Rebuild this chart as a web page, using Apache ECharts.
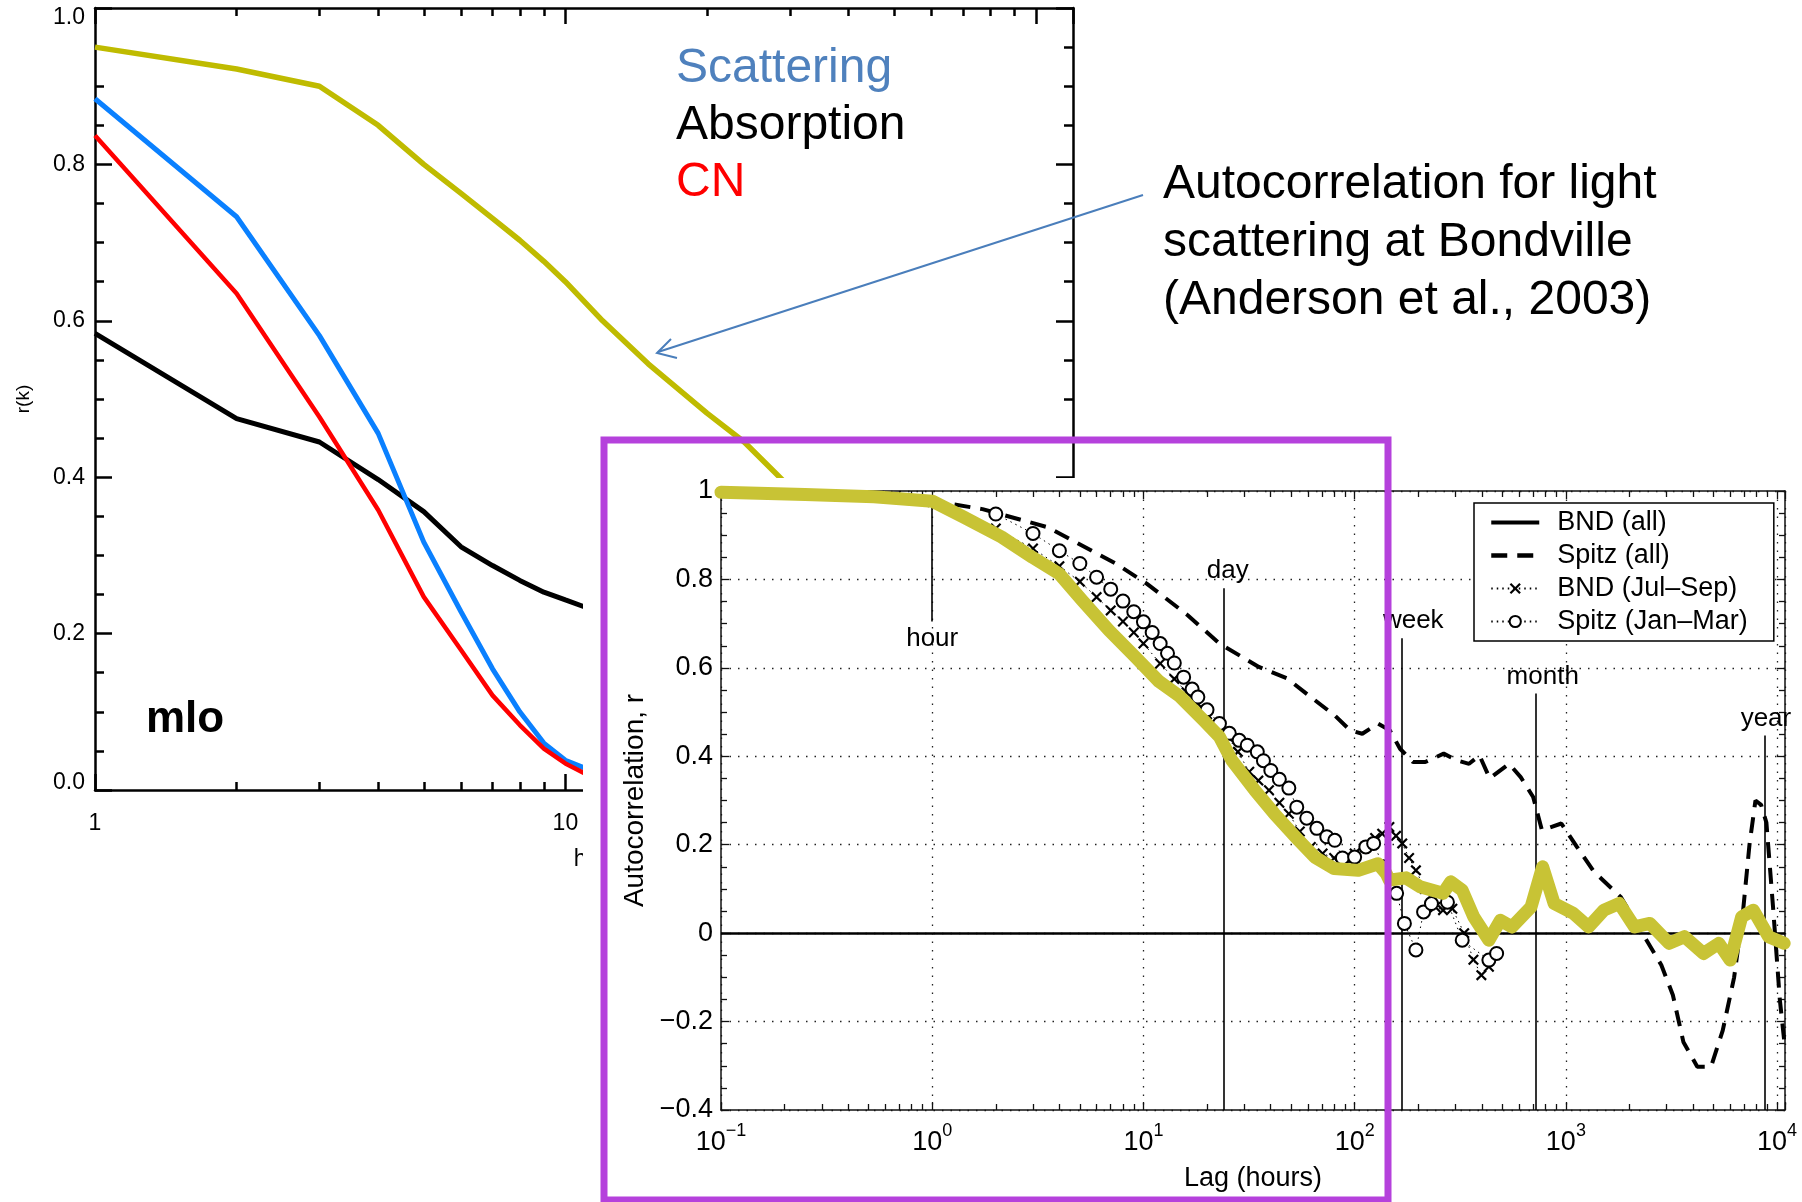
<!DOCTYPE html>
<html>
<head>
<meta charset="utf-8">
<script src="https://cdn.jsdelivr.net/npm/echarts@6/dist/echarts.min.js"></script>
<style>html,body{margin:0;padding:0;background:#fff}#c{width:1802px;height:1202px}</style>
</head>
<body>
<div id="c"></div>
<script>
// ---------- Left chart (mlo) ----------
const mloLag = [1, 2, 3, 4, 5, 6, 7, 8, 9, 10, 11, 12];
const mloScattering = [0.884, 0.733, 0.581, 0.456, 0.317, 0.228, 0.155, 0.100, 0.060, 0.038, 0.028, 0.020];
const mloCN = [0.837, 0.635, 0.477, 0.358, 0.247, 0.179, 0.121, 0.083, 0.053, 0.034, 0.021, 0.012];
const mloAbsorption = [0.584, 0.475, 0.445, 0.397, 0.356, 0.311, 0.287, 0.268, 0.253, 0.243, 0.234, 0.226];
const mloYellowLag = [1, 2, 3, 4, 5, 6, 7, 8, 9, 10, 12, 15, 20, 24, 28, 32];
const mloYellow = [0.950, 0.922, 0.900, 0.850, 0.800, 0.763, 0.731, 0.703, 0.676, 0.650, 0.600, 0.545, 0.482, 0.445, 0.405, 0.370];
const mloMinorTicks = [2, 3, 4, 5, 6, 7, 8, 9, 20, 30, 40, 50, 60, 70, 80, 90];

// ---------- Right chart (Anderson et al., 2003) ----------
const bndAllLag = [0.1, 0.25, 0.53, 1.0, 1.41, 2.13, 2.98, 3.99, 5.12, 6.86, 9.18, 11.8, 14.9, 19.3, 22.9, 26.2, 33.7, 41.7, 54.3, 64.7, 80, 104, 129, 141, 146, 175, 204, 262, 285, 323, 366, 432, 490, 555, 684, 776, 880, 1083, 1281, 1514, 1790, 2115, 2500, 3080, 3640, 4480, 5300, 6000, 6800, 7720, 9120, 10800];
const bndAllR = [0.997, 0.992, 0.987, 0.977, 0.941, 0.896, 0.850, 0.813, 0.753, 0.685, 0.624, 0.570, 0.535, 0.481, 0.444, 0.391, 0.323, 0.270, 0.210, 0.172, 0.146, 0.142, 0.157, 0.135, 0.120, 0.125, 0.105, 0.090, 0.116, 0.097, 0.037, -0.016, 0.029, 0.014, 0.059, 0.150, 0.067, 0.045, 0.014, 0.052, 0.067, 0.014, 0.022, -0.023, -0.008, -0.046, -0.023, -0.061, 0.037, 0.052, -0.008, -0.023];

const spitzAllLag = [0.1, 0.3, 0.6, 1.05, 1.73, 3.52, 7.45, 10.4, 16.2, 22.9, 35.2, 47.9, 62, 80.2, 95, 108.7, 129, 146.6, 164, 189, 216, 264, 303, 348, 390, 436, 538, 611, 700, 770, 952, 1128, 1358, 1817, 2300, 2830, 3210, 3600, 4190, 4870, 5530, 6260, 6900, 7400, 7900, 8400, 8900, 9600, 10300, 10900];
const spitzAllR = [0.995, 0.99, 0.985, 0.976, 0.959, 0.918, 0.835, 0.790, 0.719, 0.655, 0.602, 0.576, 0.534, 0.493, 0.459, 0.451, 0.474, 0.459, 0.417, 0.387, 0.387, 0.406, 0.391, 0.383, 0.402, 0.350, 0.383, 0.353, 0.308, 0.233, 0.248, 0.195, 0.139, 0.082, 0.000, -0.072, -0.140, -0.246, -0.302, -0.302, -0.220, -0.100, 0.050, 0.200, 0.300, 0.290, 0.250, 0.050, -0.150, -0.260];

const bndJulLag = [1, 2, 3, 4, 5, 6, 7, 8, 9, 10, 12, 14, 16, 18, 20, 22, 25, 28, 31.7, 35, 39.3, 44, 48.8, 55, 62, 70.5, 80, 90, 100, 112, 125, 135, 146, 157, 168, 181, 195, 215, 241, 262, 290, 330, 365, 398, 432];
const bndJulR = [0.975, 0.915, 0.87, 0.83, 0.795, 0.76, 0.73, 0.705, 0.68, 0.655, 0.61, 0.575, 0.545, 0.52, 0.495, 0.47, 0.445, 0.41, 0.365, 0.345, 0.323, 0.295, 0.27, 0.23, 0.195, 0.18, 0.17, 0.17, 0.18, 0.195, 0.215, 0.225, 0.24, 0.22, 0.203, 0.17, 0.142, 0.10, 0.059, 0.052, 0.055, 0.0, -0.06, -0.095, -0.076];

const spitzJanLag = [2, 3, 4, 5, 6, 7, 8, 9, 10, 11, 12, 13, 14, 15.5, 17, 18.1, 20, 22.9, 25.5, 28.4, 31, 34.6, 37, 40.1, 44, 48.8, 53.2, 59.3, 66.2, 73.8, 80.5, 87.5, 100, 113, 123, 137, 158, 172, 195, 212, 231, 275, 323, 432, 470];
const spitzJanR = [0.948, 0.904, 0.865, 0.836, 0.805, 0.778, 0.751, 0.727, 0.704, 0.68, 0.655, 0.633, 0.611, 0.579, 0.552, 0.534, 0.505, 0.474, 0.452, 0.436, 0.425, 0.41, 0.39, 0.368, 0.348, 0.328, 0.285, 0.26, 0.237, 0.218, 0.21, 0.17, 0.172, 0.195, 0.203, 0.15, 0.09, 0.022, -0.038, 0.048, 0.067, 0.07, -0.016, -0.061, -0.046];

const eventNames = ['hour', 'day', 'week', 'month', 'year'];
const eventLag = [1, 24, 168, 720, 8760];
const eventTop = [0.99, 0.78, 0.667, 0.542, 0.447];
const eventBottom = [0.705, -0.4, -0.4, -0.4, -0.4];
const eventLabelShift = [0, 8, 22, 14, 2];

const rightMinorTicks = [];
[0.1, 1, 10, 100, 1000].forEach(function (d) { for (let k = 2; k <= 9; k++) rightMinorTicks.push(+(d * k).toPrecision(3)); });

const legendNames = ['BND (all)', 'Spitz (all)', 'BND (Jul\u2013Sep)', 'Spitz (Jan\u2013Mar)'];

// ---------- helpers ----------
const FONT = '"Liberation Sans", Arial, Helvetica, sans-serif';
function pairs(xs, ys) { return xs.map(function (x, i) { return [x, ys[i]]; }); }
function powLabel(v) {
  const e = Math.log10(v), r = Math.round(e);
  if (Math.abs(e - r) > 1e-6) return '';
  return '{b|10}{s|' + (r < 0 ? '\u2212' + (-r) : String(r)) + '}';
}
function leftXLabel(v) {
  const e = Math.log10(v), r = Math.round(e);
  if (Math.abs(e - r) > 1e-6) return '';
  return String(Math.round(v));
}
const black = '#000';

const leftAxisLine = { onZero: false, lineStyle: { color: black, width: 2.5 } };
const rightAxisLine = { onZero: false, lineStyle: { color: '#111', width: 1.5 } };

const xAxes = [
  { gridIndex: 0, type: 'log', logBase: 10, min: 1, max: 120, position: 'bottom',
    axisLine: leftAxisLine,
    axisTick: { inside: true, length: 16, lineStyle: { color: black, width: 2.5 } },
    axisLabel: { fontSize: 23, color: black, fontFamily: FONT, margin: 22, formatter: leftXLabel },
    splitLine: { show: false },
    name: 'hr', nameLocation: 'middle', nameGap: 58, nameTextStyle: { fontSize: 23, color: black, fontFamily: FONT } },
  { gridIndex: 0, type: 'log', logBase: 10, min: 1, max: 120, position: 'bottom',
    axisLine: { show: false, onZero: false },
    axisTick: { inside: true, length: 8, customValues: mloMinorTicks, lineStyle: { color: black, width: 2.5 } },
    axisLabel: { show: false }, splitLine: { show: false } },
  { gridIndex: 0, type: 'log', logBase: 10, min: 1, max: 120, position: 'top',
    axisLine: leftAxisLine,
    axisTick: { inside: true, length: 16, lineStyle: { color: black, width: 2.5 } },
    axisLabel: { show: false }, splitLine: { show: false } },
  { gridIndex: 0, type: 'log', logBase: 10, min: 1, max: 120, position: 'top',
    axisLine: { show: false, onZero: false },
    axisTick: { inside: true, length: 8, customValues: mloMinorTicks, lineStyle: { color: black, width: 2.5 } },
    axisLabel: { show: false }, splitLine: { show: false } },
  { gridIndex: 1, type: 'log', logBase: 10, min: 0.1, max: 10900, position: 'bottom', z: 20,
    axisLine: rightAxisLine,
    axisTick: { inside: true, length: 8, lineStyle: { color: '#111', width: 1.3 } },
    axisLabel: { margin: 12, formatter: powLabel,
      rich: { b: { fontSize: 27, color: black, fontFamily: FONT, lineHeight: 34, verticalAlign: 'bottom' },
              s: { fontSize: 18, color: black, fontFamily: FONT, lineHeight: 34, verticalAlign: 'top' } } },
    splitLine: { show: true, lineStyle: { color: '#222', width: 1.3, type: [1.5, 7] } },
    name: 'Lag (hours)', nameLocation: 'middle', nameGap: 55, nameTextStyle: { fontSize: 27, color: black, fontFamily: FONT } },
  { gridIndex: 1, type: 'log', logBase: 10, min: 0.1, max: 10900, position: 'bottom', z: 20,
    axisLine: { show: false, onZero: false },
    axisTick: { inside: true, length: 6, customValues: rightMinorTicks, lineStyle: { color: '#111', width: 1.3 } },
    axisLabel: { show: false }, splitLine: { show: false } },
  { gridIndex: 1, type: 'log', logBase: 10, min: 0.1, max: 10900, position: 'top', z: 20,
    axisLine: rightAxisLine,
    axisTick: { inside: true, length: 8, lineStyle: { color: '#111', width: 1.3 } },
    axisLabel: { show: false }, splitLine: { show: false } },
  { gridIndex: 1, type: 'log', logBase: 10, min: 0.1, max: 10900, position: 'top', z: 20,
    axisLine: { show: false, onZero: false },
    axisTick: { inside: true, length: 6, customValues: rightMinorTicks, lineStyle: { color: '#111', width: 1.3 } },
    axisLabel: { show: false }, splitLine: { show: false } }
];

const yAxes = [
  { gridIndex: 0, type: 'value', min: 0, max: 1, interval: 0.2, position: 'left',
    axisLine: leftAxisLine,
    axisTick: { inside: true, length: 17, lineStyle: { color: black, width: 2.5 } },
    minorTick: { show: true, splitNumber: 4, length: 9, lineStyle: { color: black, width: 2.5 } },
    axisLabel: { margin: 10, fontSize: 23, color: black, fontFamily: FONT,
      formatter: function (v) {
        const t = v.toFixed(1);
        if (v === 1) return '{t|' + t + '}';
        if (v === 0) return '{z|' + t + '}';
        return t;
      },
      rich: { t: { fontSize: 23, color: black, fontFamily: FONT, padding: [20, 0, 0, 0] },
              z: { fontSize: 23, color: black, fontFamily: FONT, padding: [0, 0, 14, 0] } } },
    splitLine: { show: false },
    name: 'r(k)', nameLocation: 'middle', nameGap: 62, nameRotate: 90, nameTextStyle: { fontSize: 19, color: black, fontFamily: FONT } },
  { gridIndex: 0, type: 'value', min: 0, max: 1, interval: 0.2, position: 'right',
    axisLine: leftAxisLine,
    axisTick: { inside: true, length: 17, lineStyle: { color: black, width: 2.5 } },
    minorTick: { show: true, splitNumber: 4, length: 9, lineStyle: { color: black, width: 2.5 } },
    axisLabel: { show: false }, splitLine: { show: false } },
  { gridIndex: 1, type: 'value', min: -0.4, max: 1, interval: 0.2, position: 'left', z: 20,
    axisLine: rightAxisLine,
    axisTick: { inside: true, length: 8, lineStyle: { color: '#111', width: 1.3 } },
    minorTick: { show: true, splitNumber: 4, length: 6, lineStyle: { color: '#111', width: 1.3 } },
    axisLabel: { margin: 8, fontSize: 27, color: black, fontFamily: FONT,
      formatter: function (v) {
        if (Math.abs(v) < 1e-9) return '0';
        if (Math.abs(v - 1) < 1e-9) return '1';
        return (v < 0 ? '\u2212' : '') + Math.abs(v).toFixed(1);
      } },
    splitLine: { show: true, lineStyle: { color: '#222', width: 1.3, type: [1.5, 7] } },
    name: 'Autocorrelation, r', nameLocation: 'middle', nameGap: 70, nameRotate: 90,
    nameTextStyle: { fontSize: 28, color: black, fontFamily: FONT } },
  { gridIndex: 1, type: 'value', min: -0.4, max: 1, interval: 0.2, position: 'right', z: 20,
    axisLine: rightAxisLine,
    axisTick: { inside: true, length: 8, lineStyle: { color: '#111', width: 1.3 } },
    minorTick: { show: true, splitNumber: 4, length: 6, lineStyle: { color: '#111', width: 1.3 } },
    axisLabel: { show: false }, splitLine: { show: false } }
];

const eventLines = eventNames.map(function (n, i) {
  return [{ name: n, coord: [eventLag[i], i === 0 ? eventTop[i] : eventBottom[i]],
            label: { padding: [0, 0, 0, eventLabelShift[i]] } },
          { coord: [eventLag[i], i === 0 ? eventBottom[i] : eventTop[i]] }];
});

const xMark = 'path://M0,1.4L1.4,0L5,3.6L8.6,0L10,1.4L6.4,5L10,8.6L8.6,10L5,6.4L1.4,10L0,8.6L3.6,5Z';

const series = [
  { name: 'mlo yellow', type: 'line', xAxisIndex: 0, yAxisIndex: 0, data: pairs(mloYellowLag, mloYellow), symbol: 'none', z: 2,
    lineStyle: { color: '#bfbb00', width: 5.5 }, silent: true },
  { name: 'Absorption', type: 'line', xAxisIndex: 0, yAxisIndex: 0, data: pairs(mloLag, mloAbsorption), symbol: 'none', z: 2,
    lineStyle: { color: '#000', width: 5 }, silent: true },
  { name: 'Scattering', type: 'line', xAxisIndex: 0, yAxisIndex: 0, data: pairs(mloLag, mloScattering), symbol: 'none', z: 2,
    lineStyle: { color: '#0a80ff', width: 5 }, silent: true },
  { name: 'CN', type: 'line', xAxisIndex: 0, yAxisIndex: 0, data: pairs(mloLag, mloCN), symbol: 'none', z: 2,
    lineStyle: { color: '#ff0000', width: 4.5 }, silent: true },
  { name: legendNames[0], type: 'line', xAxisIndex: 4, yAxisIndex: 2, data: pairs(bndAllLag, bndAllR), symbol: 'none', z: 21,
    color: '#000', lineStyle: { color: '#000', width: 3.5 }, silent: true,
    markLine: { z: 21, silent: true, symbol: ['none', 'none'], animation: false,
      data: [{ yAxis: 0, lineStyle: { color: '#000', width: 2.5, type: 'solid' }, label: { show: false } }].concat(eventLines),
      lineStyle: { color: '#000', width: 1.6, type: 'solid' },
      label: { show: true, position: 'end', formatter: '{b}', fontSize: 26, color: '#000', fontFamily: FONT, distance: 4 } } },
  { name: legendNames[1], type: 'line', xAxisIndex: 4, yAxisIndex: 2, data: pairs(spitzAllLag, spitzAllR), symbol: 'none', z: 22,
    color: '#000', lineStyle: { color: '#000', width: 4, type: [16, 10] }, silent: true },
  { name: legendNames[2], type: 'line', xAxisIndex: 4, yAxisIndex: 2, data: pairs(bndJulLag, bndJulR), symbol: xMark, symbolSize: 11, z: 23,
    color: '#000', itemStyle: { color: '#000' }, lineStyle: { color: '#000', width: 1, type: [1.5, 4] }, silent: true },
  { name: legendNames[3], type: 'line', xAxisIndex: 4, yAxisIndex: 2, data: pairs(spitzJanLag, spitzJanR), symbol: 'emptyCircle', symbolSize: 13, z: 24,
    color: '#000', itemStyle: { color: '#000', borderWidth: 1.6 }, lineStyle: { color: '#000', width: 1, type: [1.5, 4] }, silent: true },
  { name: 'highlight', type: 'line', xAxisIndex: 4, yAxisIndex: 2, data: pairs(bndAllLag, bndAllR), symbol: 'none', z: 25,
    lineStyle: { color: '#c8c335', width: 13, cap: 'round', join: 'round' }, silent: true }
];

const graphics = [
  { type: 'rect', z: 10, shape: { x: 583, y: 478, width: 1219, height: 724 }, style: { fill: '#fff' }, silent: true },
  { type: 'rect', z: 40, shape: { x: 604, y: 440, width: 784, height: 760 }, style: { fill: 'none', stroke: '#b541dc', lineWidth: 7 }, silent: true },
  { type: 'line', z: 40, shape: { x1: 1143, y1: 195, x2: 658, y2: 352 }, style: { stroke: '#4a7ebb', lineWidth: 2 }, silent: true },
  { type: 'polyline', z: 40, shape: { points: [[671, 339], [657, 353], [677, 358]] }, style: { stroke: '#4a7ebb', lineWidth: 2, fill: null }, silent: true },
  { type: 'text', z: 40, x: 676, y: 69, style: { text: 'Scattering', fill: '#4f81bd', fontSize: 48, fontFamily: FONT, verticalAlign: 'middle', align: 'left' } },
  { type: 'text', z: 40, x: 676, y: 126, style: { text: 'Absorption', fill: '#000', fontSize: 48, fontFamily: FONT, verticalAlign: 'middle', align: 'left' } },
  { type: 'text', z: 40, x: 676, y: 183, style: { text: 'CN', fill: '#ff0000', fontSize: 48, fontFamily: FONT, verticalAlign: 'middle', align: 'left' } },
  { type: 'text', z: 40, x: 1163, y: 185, style: { text: 'Autocorrelation for light', fill: '#000', fontSize: 48, fontFamily: FONT, verticalAlign: 'middle', align: 'left' } },
  { type: 'text', z: 40, x: 1163, y: 243, style: { text: 'scattering at Bondville', fill: '#000', fontSize: 48, fontFamily: FONT, verticalAlign: 'middle', align: 'left' } },
  { type: 'text', z: 40, x: 1163, y: 301, style: { text: '(Anderson et al., 2003)', fill: '#000', fontSize: 48, fontFamily: FONT, verticalAlign: 'middle', align: 'left' } },
  { type: 'text', z: 5, x: 146, y: 720, style: { text: 'mlo', fill: '#000', fontSize: 44, fontWeight: 'bold', fontFamily: FONT, verticalAlign: 'middle', align: 'left' } }
];

const option = {
  animation: false,
  backgroundColor: '#fff',
  textStyle: { fontFamily: FONT },
  grid: [
    { left: 95, top: 8, width: 978, height: 782 },
    { left: 721, top: 491, width: 1064, height: 619 }
  ],
  xAxis: xAxes,
  yAxis: yAxes,
  legend: {
    z: 30, orient: 'vertical', left: 1474, top: 503, selectedMode: false,
    data: [
      { name: legendNames[0], itemStyle: { opacity: 0 }, lineStyle: { width: 4 } },
      { name: legendNames[1], itemStyle: { opacity: 0 }, lineStyle: { width: 4.5 } },
      { name: legendNames[2] },
      { name: legendNames[3] }
    ],
    itemWidth: 48, itemHeight: 14, itemGap: 6, padding: [6, 26, 6, 15],
    backgroundColor: '#fff', borderColor: '#000', borderWidth: 1.5, borderRadius: 0,
    textStyle: { fontSize: 27, color: '#000', fontFamily: FONT, padding: [0, 0, 0, 13] }
  },
  graphic: graphics,
  series: series
};

const chart = echarts.init(document.getElementById('c'), null, { renderer: 'canvas' });
chart.setOption(option);
</script>
</body>
</html>
